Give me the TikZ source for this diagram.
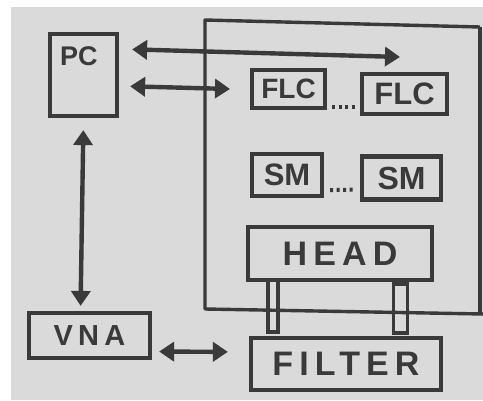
\documentclass[tikz,border=0pt]{standalone}
\usepackage{fontspec}
\setmainfont{Liberation Sans}
\newfontfamily\wideletters[LetterSpace=18]{Liberation Sans}
\usetikzlibrary{arrows.meta}
\definecolor{paper}{RGB}{218,218,218}
\definecolor{marker}{RGB}{58,58,58}
\begin{document}
\begin{tikzpicture}[x=1pt,y=-1pt,
        box/.style={draw=marker,line width=4.2pt,rectangle,inner sep=0pt,
            text=marker,font=\bfseries},
        bar/.style={draw=marker,line width=3.2pt,rectangle,inner sep=0pt},
        biarrow/.style={draw=marker,line width=4.4pt,
            {Triangle[length=15pt,width=19pt]}-{Triangle[length=15pt,width=19pt]}},
        dotline/.style={draw=marker,line width=4pt,dash pattern=on 3pt off 3.5pt}]
    \useasboundingbox (0,0) rectangle (483,400);
    \fill[white] (0,0) rectangle (483,400);
    \fill[paper] (11,7) rectangle (483,400);
    \draw[marker,line width=3.4pt,line join=round]
        (480,27) -- (205,20) -- (205,309) -- (483,314);
    \draw[marker,line width=3.4pt] (480,27) -- (480,314);
    \node[box,minimum width=67,minimum height=82,
        label={[anchor=north west,xshift=12pt,yshift=-15pt,inner sep=0pt,text=marker,
        font=\bfseries\fontsize{27}{27}\selectfont]north west:PC}] (pc) at (83.5,75) {};
    \node[box,minimum width=73,minimum height=38,
        font=\bfseries\fontsize{28}{28}\selectfont] (flcA) at (288.5,89) {FLC};
    \node[box,minimum width=85,minimum height=40,
        font=\bfseries\fontsize{31}{31}\selectfont] (flcB) at (404.5,94) {FLC};
    \node[box,minimum width=70,minimum height=42,
        font=\bfseries\fontsize{31}{31}\selectfont] (smA) at (287,175) {SM};
    \node[box,minimum width=79,minimum height=43,
        font=\bfseries\fontsize{32}{32}\selectfont] (smB) at (401.5,178) {SM};
    \node[box,minimum width=184,minimum height=53,
        font=\wideletters\bfseries\fontsize{34}{34}\selectfont] (head) at (340,253.5) {HEAD};
    \node[box,minimum width=190,minimum height=52,
        font=\wideletters\bfseries\fontsize{34}{34}\selectfont] (filter) at (346,364) {FILTER};
    \node[box,minimum width=121,minimum height=45,
        font=\wideletters\bfseries\fontsize{29}{29}\selectfont] (vna) at (89.5,335.5) {VNA};
    \node[bar,minimum width=10,minimum height=52] (barA) at (273,306) {};
    \node[bar,minimum width=14,minimum height=49] (barB) at (400.5,308.5) {};
    \coordinate (busend) at (400,57);
    \coordinate (ctrlend) at (230,89);
    \draw[biarrow,shorten <=13pt] ([yshift=26pt]pc.east) -- (busend);
    \draw[biarrow,shorten <=11pt] ([yshift=-11pt]pc.east) -- (ctrlend);
    \draw[biarrow,shorten <=12pt,shorten >=5pt] (pc.south) -- ([xshift=-9pt]vna.north);
    \draw[biarrow,shorten <=7pt,shorten >=21pt] ([yshift=-16pt]vna.east) -- ([yshift=12pt]filter.west);
    \draw[dotline] ([xshift=5pt,yshift=3pt]flcA.south east) -- ([xshift=-4pt,yshift=9pt]flcB.south west);
    \draw[dotline] ([xshift=6pt,yshift=8pt]smA.south east) -- ([xshift=-5pt,yshift=12pt]smB.south west);
\end{tikzpicture}
\end{document}
